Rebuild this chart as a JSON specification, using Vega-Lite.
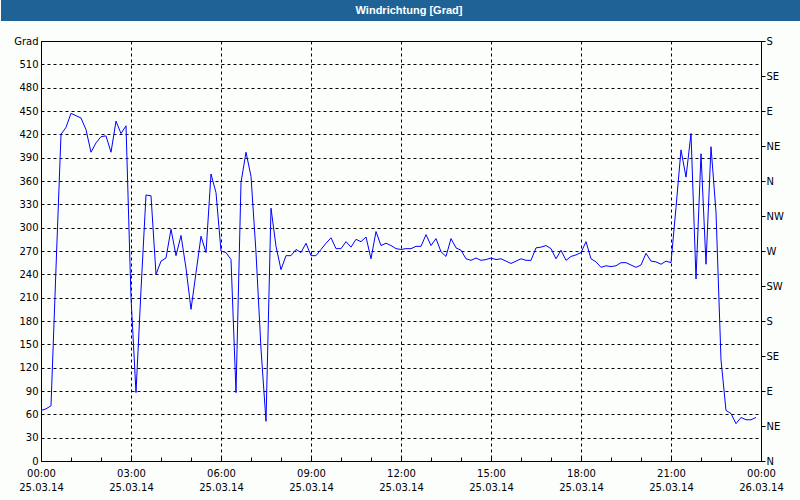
{
  "$schema": "https://vega.github.io/schema/vega-lite/v6.json",
  "background": "#fcfefc",
  "padding": {"left": 0, "top": 0, "right": 0, "bottom": 6},
  "spacing": 20,
  "bounds": "flush",
  "center": true,
  "config": {
    "font": "DejaVu Sans",
    "view": {"stroke": "#000000", "strokeWidth": 1},
    "axis": {
      "labelFont": "DejaVu Sans",
      "labelFontSize": 10,
      "labelColor": "#000000",
      "gridColor": "#000000",
      "gridDash": [3, 3],
      "gridOpacity": 1,
      "gridWidth": 1,
      "tickColor": "#000000",
      "domain": false
    }
  },
  "datasets": {
    "wind": [
      {"t": "2014-03-25T00:00Z", "v": 65}, {"t": "2014-03-25T00:10Z", "v": 67}, {"t": "2014-03-25T00:20Z", "v": 71},
      {"t": "2014-03-25T00:30Z", "v": 248}, {"t": "2014-03-25T00:40Z", "v": 420}, {"t": "2014-03-25T00:50Z", "v": 429},
      {"t": "2014-03-25T01:00Z", "v": 447}, {"t": "2014-03-25T01:10Z", "v": 444}, {"t": "2014-03-25T01:20Z", "v": 441},
      {"t": "2014-03-25T01:30Z", "v": 426}, {"t": "2014-03-25T01:40Z", "v": 397}, {"t": "2014-03-25T01:50Z", "v": 409},
      {"t": "2014-03-25T02:00Z", "v": 417}, {"t": "2014-03-25T02:10Z", "v": 418}, {"t": "2014-03-25T02:20Z", "v": 397},
      {"t": "2014-03-25T02:30Z", "v": 437}, {"t": "2014-03-25T02:40Z", "v": 421}, {"t": "2014-03-25T02:50Z", "v": 431},
      {"t": "2014-03-25T03:00Z", "v": 210}, {"t": "2014-03-25T03:10Z", "v": 88}, {"t": "2014-03-25T03:20Z", "v": 220},
      {"t": "2014-03-25T03:30Z", "v": 342}, {"t": "2014-03-25T03:40Z", "v": 341}, {"t": "2014-03-25T03:50Z", "v": 240},
      {"t": "2014-03-25T04:00Z", "v": 257}, {"t": "2014-03-25T04:10Z", "v": 261}, {"t": "2014-03-25T04:20Z", "v": 298},
      {"t": "2014-03-25T04:30Z", "v": 264}, {"t": "2014-03-25T04:40Z", "v": 290}, {"t": "2014-03-25T04:50Z", "v": 248},
      {"t": "2014-03-25T05:00Z", "v": 195}, {"t": "2014-03-25T05:10Z", "v": 242}, {"t": "2014-03-25T05:20Z", "v": 289},
      {"t": "2014-03-25T05:30Z", "v": 268}, {"t": "2014-03-25T05:40Z", "v": 369}, {"t": "2014-03-25T05:50Z", "v": 345},
      {"t": "2014-03-25T06:00Z", "v": 270}, {"t": "2014-03-25T06:10Z", "v": 268}, {"t": "2014-03-25T06:20Z", "v": 259},
      {"t": "2014-03-25T06:30Z", "v": 88}, {"t": "2014-03-25T06:40Z", "v": 358}, {"t": "2014-03-25T06:50Z", "v": 397},
      {"t": "2014-03-25T07:00Z", "v": 366}, {"t": "2014-03-25T07:10Z", "v": 268}, {"t": "2014-03-25T07:20Z", "v": 144},
      {"t": "2014-03-25T07:30Z", "v": 51}, {"t": "2014-03-25T07:40Z", "v": 325}, {"t": "2014-03-25T07:50Z", "v": 276},
      {"t": "2014-03-25T08:00Z", "v": 246}, {"t": "2014-03-25T08:10Z", "v": 264}, {"t": "2014-03-25T08:20Z", "v": 264},
      {"t": "2014-03-25T08:30Z", "v": 272}, {"t": "2014-03-25T08:40Z", "v": 268}, {"t": "2014-03-25T08:50Z", "v": 280},
      {"t": "2014-03-25T09:00Z", "v": 264}, {"t": "2014-03-25T09:10Z", "v": 264}, {"t": "2014-03-25T09:20Z", "v": 272},
      {"t": "2014-03-25T09:30Z", "v": 280}, {"t": "2014-03-25T09:40Z", "v": 287}, {"t": "2014-03-25T09:50Z", "v": 273},
      {"t": "2014-03-25T10:00Z", "v": 273}, {"t": "2014-03-25T10:10Z", "v": 282}, {"t": "2014-03-25T10:20Z", "v": 275},
      {"t": "2014-03-25T10:30Z", "v": 285}, {"t": "2014-03-25T10:40Z", "v": 282}, {"t": "2014-03-25T10:50Z", "v": 288},
      {"t": "2014-03-25T11:00Z", "v": 260}, {"t": "2014-03-25T11:10Z", "v": 295}, {"t": "2014-03-25T11:20Z", "v": 277},
      {"t": "2014-03-25T11:30Z", "v": 280}, {"t": "2014-03-25T11:40Z", "v": 277}, {"t": "2014-03-25T11:50Z", "v": 273},
      {"t": "2014-03-25T12:00Z", "v": 272}, {"t": "2014-03-25T12:10Z", "v": 273}, {"t": "2014-03-25T12:20Z", "v": 273},
      {"t": "2014-03-25T12:30Z", "v": 276}, {"t": "2014-03-25T12:40Z", "v": 276}, {"t": "2014-03-25T12:50Z", "v": 291},
      {"t": "2014-03-25T13:00Z", "v": 277}, {"t": "2014-03-25T13:10Z", "v": 286}, {"t": "2014-03-25T13:20Z", "v": 269},
      {"t": "2014-03-25T13:30Z", "v": 263}, {"t": "2014-03-25T13:40Z", "v": 286}, {"t": "2014-03-25T13:50Z", "v": 274},
      {"t": "2014-03-25T14:00Z", "v": 271}, {"t": "2014-03-25T14:10Z", "v": 260}, {"t": "2014-03-25T14:20Z", "v": 258},
      {"t": "2014-03-25T14:30Z", "v": 261}, {"t": "2014-03-25T14:40Z", "v": 258}, {"t": "2014-03-25T14:50Z", "v": 259},
      {"t": "2014-03-25T15:00Z", "v": 261}, {"t": "2014-03-25T15:10Z", "v": 259}, {"t": "2014-03-25T15:20Z", "v": 260},
      {"t": "2014-03-25T15:30Z", "v": 257}, {"t": "2014-03-25T15:40Z", "v": 254}, {"t": "2014-03-25T15:50Z", "v": 257},
      {"t": "2014-03-25T16:00Z", "v": 260}, {"t": "2014-03-25T16:10Z", "v": 258}, {"t": "2014-03-25T16:20Z", "v": 258},
      {"t": "2014-03-25T16:30Z", "v": 274}, {"t": "2014-03-25T16:40Z", "v": 275}, {"t": "2014-03-25T16:50Z", "v": 277},
      {"t": "2014-03-25T17:00Z", "v": 273}, {"t": "2014-03-25T17:10Z", "v": 260}, {"t": "2014-03-25T17:20Z", "v": 271},
      {"t": "2014-03-25T17:30Z", "v": 258}, {"t": "2014-03-25T17:40Z", "v": 263}, {"t": "2014-03-25T17:50Z", "v": 265},
      {"t": "2014-03-25T18:00Z", "v": 268}, {"t": "2014-03-25T18:10Z", "v": 282}, {"t": "2014-03-25T18:20Z", "v": 260},
      {"t": "2014-03-25T18:30Z", "v": 256}, {"t": "2014-03-25T18:40Z", "v": 249}, {"t": "2014-03-25T18:50Z", "v": 251},
      {"t": "2014-03-25T19:00Z", "v": 250}, {"t": "2014-03-25T19:10Z", "v": 251}, {"t": "2014-03-25T19:20Z", "v": 255},
      {"t": "2014-03-25T19:30Z", "v": 255}, {"t": "2014-03-25T19:40Z", "v": 252}, {"t": "2014-03-25T19:50Z", "v": 249},
      {"t": "2014-03-25T20:00Z", "v": 252}, {"t": "2014-03-25T20:10Z", "v": 267}, {"t": "2014-03-25T20:20Z", "v": 257},
      {"t": "2014-03-25T20:30Z", "v": 256}, {"t": "2014-03-25T20:40Z", "v": 253}, {"t": "2014-03-25T20:50Z", "v": 257},
      {"t": "2014-03-25T21:00Z", "v": 255}, {"t": "2014-03-25T21:10Z", "v": 326}, {"t": "2014-03-25T21:20Z", "v": 400},
      {"t": "2014-03-25T21:30Z", "v": 365}, {"t": "2014-03-25T21:40Z", "v": 421}, {"t": "2014-03-25T21:50Z", "v": 234},
      {"t": "2014-03-25T22:00Z", "v": 395}, {"t": "2014-03-25T22:10Z", "v": 253}, {"t": "2014-03-25T22:20Z", "v": 404},
      {"t": "2014-03-25T22:30Z", "v": 320}, {"t": "2014-03-25T22:40Z", "v": 130}, {"t": "2014-03-25T22:50Z", "v": 65},
      {"t": "2014-03-25T23:00Z", "v": 61}, {"t": "2014-03-25T23:10Z", "v": 48}, {"t": "2014-03-25T23:20Z", "v": 56},
      {"t": "2014-03-25T23:30Z", "v": 53}, {"t": "2014-03-25T23:40Z", "v": 53}, {"t": "2014-03-25T23:50Z", "v": 56}
    ]
  },
  "vconcat": [
    {
      "width": 800,
      "height": 21,
      "view": {"fill": "#1f6396", "stroke": null},
      "data": {"values": [{"label": "Windrichtung [Grad]"}]},
      "mark": {"type": "text", "color": "#ffffff", "font": "Liberation Sans", "fontSize": 11, "fontWeight": "bold", "dx": 8, "baseline": "middle", "align": "center"},
      "encoding": {"text": {"field": "label"}}
    },
    {
      "width": 720,
      "height": 420,
      "data": {"name": "wind"},
      "encoding": {
        "x": {
          "field": "t",
          "type": "temporal",
          "scale": {"type": "utc", "domain": [1395705600000, 1395792000000], "nice": false},
          "axis": {
            "title": null,
            "tickCount": 24,
            "labelExpr": "utchours(datum.value) % 3 == 0 ? [utcFormat(datum.value, '%H:%M'), utcFormat(datum.value, '%d.%m.%y')] : ''",
            "gridOpacity": {"condition": {"test": "utchours(datum.value) % 3 == 0", "value": 1}, "value": 0},
            "tickSize": -4,
            "labelPadding": 11,
            "labelLineHeight": 14,
            "labelAlign": "center",
            "labelBaseline": "top",
            "labelFlush": false,
            "labelOverlap": false,
            "labelBound": false
          }
        }
      },
      "layer": [
        {
          "mark": {"type": "line", "color": "#0000ff", "strokeWidth": 1, "interpolate": "linear"},
          "encoding": {
            "y": {
              "field": "v",
              "type": "quantitative",
              "scale": {"domain": [0, 540], "nice": false},
              "axis": {
                "title": null,
                "orient": "left",
                "minExtent": 40,
                "values": [0, 30, 60, 90, 120, 150, 180, 210, 240, 270, 300, 330, 360, 390, 420, 450, 480, 510, 540],
                "labelExpr": "datum.value == 540 ? 'Grad' : datum.label",
                "ticks": false,
                "labelPadding": 3,
                "grid": true
              }
            }
          }
        },
        {
          "mark": {"type": "line", "strokeOpacity": 0},
          "encoding": {
            "y": {
              "field": "v",
              "type": "quantitative",
              "scale": {"domain": [0, 540], "nice": false},
              "axis": {
                "title": null,
                "orient": "right",
                "minExtent": 40,
                "values": [0, 45, 90, 135, 180, 225, 270, 315, 360, 405, 450, 495, 540],
                "labelExpr": "['N','NE','E','SE','S','SW','W','NW'][round(datum.value / 45) % 8]",
                "grid": false,
                "ticks": true,
                "tickSize": 4,
                "labelPadding": 1
              }
            }
          }
        }
      ],
      "resolve": {"axis": {"y": "independent"}}
    }
  ]
}
